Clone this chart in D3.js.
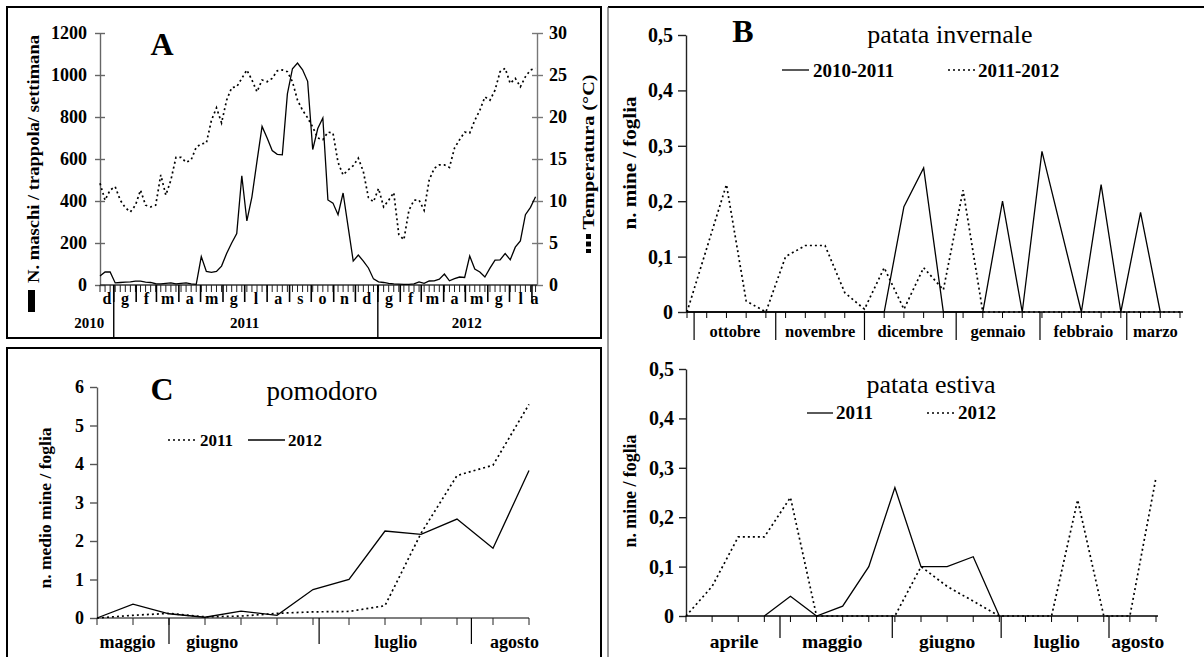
<!DOCTYPE html>
<html>
<head>
<meta charset="utf-8">
<script src="https://d3js.org/d3.v7.min.js"></script>
<style>
    body { margin:0; background:#fff; }
    svg { display:block; font-family:"Liberation Serif", "Times New Roman", serif; }
</style>
</head>
<body>
<svg id="chart" width="1204" height="657"></svg>
<script>
// ---------- data ----------
// A: weekly male catches per trap (solid) and mean temperature (dotted), from mid Dec 2010
const aStart = new Date(2010, 11, 13);
const aEnd = new Date(2012, 7, 8);
const maleCatches = [43, 62, 62, 10, 12, 14, 15, 18, 18, 14, 12, 6, 5, 8, 10, 5, 8, 10, 5, 3,
    135, 65, 60, 65, 90, 150, 200, 245, 520, 305, 420, 590, 755, 700, 640, 622, 620, 910, 1030, 1057,
    1025, 970, 645, 745, 795, 405, 390, 335, 438, 276, 114, 143, 114, 81, 29, 15, 12, 8, 5, 4,
    3, 3, 5, 15, 8, 19, 20, 28, 52, 20, 30, 38, 36, 138, 76, 62, 38, 80, 118, 120,
    150, 120, 180, 210, 335, 370, 420];
const temperature = [12.1, 10.1, 11.3, 11.7, 10.1, 9.2, 8.7, 9.5, 11.3, 9.5, 9.3, 9.5, 13.1, 10.7, 12.5, 15.2, 15.2, 14.6, 14.9, 16.4,
    16.8, 16.9, 19.6, 21.1, 19.3, 22.0, 23.5, 23.6, 24.6, 25.6, 24.4, 23.0, 24.4, 24.2, 24.6, 25.5, 25.6, 25.4, 24.2, 22.0,
    20.8, 19.9, 18.8, 17.5, 17.3, 18.2, 18.1, 14.6, 13.1, 13.7, 14.2, 15.1, 13.5, 10.4, 9.9, 11.5, 9.3, 10.1, 11.0, 6.0,
    5.4, 8.9, 10.1, 10.1, 8.9, 12.5, 13.9, 14.3, 14.3, 14.0, 16.3, 17.3, 18.2, 18.1, 19.6, 20.8, 22.4, 22.0, 23.2, 25.4,
    25.8, 24.0, 24.6, 23.6, 24.8, 25.6, 25.8];
const aCountTicks = [0, 200, 400, 600, 800, 1000, 1200];
const aTempTicks = [0, 5, 10, 15, 20, 25, 30];
const aMonths = ['d', 'g', 'f', 'm', 'a', 'm', 'g', 'l', 'a', 's', 'o', 'n', 'd', 'g', 'f', 'm', 'a', 'm', 'g', 'l', 'a'];
const aYears = ['2010', '2011', '2012'];
const aYearAt = [new Date(2010, 10, 28), new Date(2011, 6, 1), new Date(2012, 4, 3)];
const aYearBreaks = [new Date(2011, 0, 1), new Date(2012, 0, 1)];

// B: patata invernale, weekly samples October - March
const bSeason1 = [0, 0, 0, 0, 0, 0, 0, 0, 0, 0, 0, 0.19, 0.26, 0, 0, 0, 0.2, 0, 0.29, null, 0, 0.23, 0, 0.18, 0, null];
const bSeason2 = [0, 0.115, 0.23, 0.02, 0, 0.1, 0.12, 0.12, 0.035, 0.005, 0.08, 0.005, 0.08, 0.04, 0.22, 0, 0, 0, 0, 0, 0, 0, 0, 0, 0, 0];
const bMonths = ['ottobre', 'novembre', 'dicembre', 'gennaio', 'febbraio', 'marzo'];
const bMonthBreaks = [0.36, 4.5, 9, 13.65, 17.9, 22.3, 25.2];
const mineTicks = [0, 0.1, 0.2, 0.3, 0.4, 0.5];

// C: pomodoro, weekly samples May - August
const c2011 = [0, 0.07, 0.12, 0.03, 0.05, 0.12, 0.16, 0.17, 0.32, 2.2, 3.7, 3.97, 5.55];
const c2012 = [0, 0.36, 0.11, 0.02, 0.18, 0.07, 0.74, 1.0, 2.26, 2.17, 2.57, 1.81, 3.83];
const cMonths = ['maggio', 'giugno', 'luglio', 'agosto'];
const cMonthAt = [0.85, 3.2, 8.3, 11.6];
const cMonthBreaks = [2, 6.17, 10.4];
const cTicks = [0, 1, 2, 3, 4, 5, 6];

// D: patata estiva, weekly samples April - August
const d2011 = [null, null, null, 0, 0.04, 0, 0.02, 0.1, 0.26, 0.1, 0.1, 0.12, 0, null, null, null, null, null, null];
const d2012 = [0, 0.06, 0.16, 0.16, 0.24, 0, 0, 0, 0, 0.1, 0.06, 0.03, 0, 0, 0, 0.235, 0, 0, 0.28];
const dMonths = ['aprile', 'maggio', 'giugno', 'luglio', 'agosto'];
const dMonthAt = [1.84, 5.6, 10.0, 14.2, 17.3];
const dMonthBreaks = [3.6, 7.9, 12.07, 16.2];

// ---------- helpers ----------
const svg = d3.select('#chart');
const FONT = '"Liberation Serif", "Times New Roman", serif';
const DOTS = '2,3';

function label(x, y, s, size, opts = {}) {
    const t = svg.append('text')
        .attr('x', x).attr('y', y)
        .attr('font-family', FONT)
        .attr('font-size', size)
        .attr('font-weight', opts.normal ? 'normal' : 'bold')
        .attr('text-anchor', opts.anchor || 'middle')
        .text(s);
    if (opts.rotate) t.attr('transform', `rotate(-90, ${x}, ${y})`);
    if (opts.len) t.attr('textLength', opts.len).attr('lengthAdjust', 'spacingAndGlyphs');
    return t;
}

function seg(x1, y1, x2, y2, w, col, dash) {
    const l = svg.append('line')
        .attr('x1', x1).attr('y1', y1).attr('x2', x2).attr('y2', y2)
        .attr('stroke', col || '#000').attr('stroke-width', w || 1);
    if (dash) l.attr('stroke-dasharray', dash);
    return l;
}

function series(values, x, y, dotted) {
    const pts = values.map((v, i) => [i, v]).filter(d => d[1] != null);
    svg.append('path')
        .datum(pts)
        .attr('fill', 'none')
        .attr('stroke', '#000')
        .attr('stroke-width', dotted ? 1.7 : 1.3)
        .attr('stroke-dasharray', dotted ? DOTS : null)
        .attr('d', d3.line().x(d => x(d[0])).y(d => y(d[1])));
}

function styleAxis(g, size, col) {
    g.attr('font-family', FONT).attr('font-size', size).attr('font-weight', 'bold').attr('color', '#000');
    g.selectAll('text').attr('font-family', FONT);
    g.selectAll('path, line').attr('stroke', col).attr('stroke-width', 1.4);
}

const intFmt = d3.format('d');
const commaFmt = d => d === 0 ? '0' : d.toFixed(1).replace('.', ',');

// ---------- frames ----------
svg.append('rect').attr('x', 7).attr('y', 7).attr('width', 594).attr('height', 331)
    .attr('fill', 'none').attr('stroke', '#000').attr('stroke-width', 2);
svg.append('rect').attr('x', 7).attr('y', 348).attr('width', 594).attr('height', 320)
    .attr('fill', 'none').attr('stroke', '#000').attr('stroke-width', 2);
seg(608, 7, 1210, 7, 2, '#000');
seg(608, 7, 608, 660, 1.2, '#555');

// ---------- panel A ----------
const xA = d3.scaleTime().domain([aStart, aEnd]).range([100, 537]);
const yCount = d3.scaleLinear().domain([0, 1200]).range([285, 33]);
const yTemp = d3.scaleLinear().domain([0, 30]).range([285, 33]);
const aDates = maleCatches.map((_, i) => d3.timeDay.offset(aStart, 7 * i));

const axL = svg.append('g').attr('transform', 'translate(100,0)')
    .call(d3.axisLeft(yCount).tickValues(aCountTicks).tickFormat(intFmt).tickSize(5).tickSizeOuter(0).tickPadding(8));
axL.selectAll('.tick line').attr('x1', 5);
styleAxis(axL, 18, '#666');

const axR = svg.append('g').attr('transform', 'translate(537,0)')
    .call(d3.axisRight(yTemp).tickValues(aTempTicks).tickFormat(intFmt).tickSize(6).tickSizeOuter(0).tickPadding(6));
axR.selectAll('.tick line').attr('x1', -5);
styleAxis(axR, 18, '#777');

// time axis: weekly ticks, month separators, year separators
seg(100, 285, 537, 285, 1.4, '#333');
aDates.forEach(d => seg(xA(d), 285, xA(d), 292, 1, '#222'));
const monthBreaks = d3.timeMonth.range(new Date(2011, 0, 1), aEnd);
monthBreaks.forEach(d => seg(xA(d), 285, xA(d), 302, 1.6, '#000'));
aYearBreaks.forEach(d => seg(xA(d), 285, xA(d), 338, 1.4, '#000'));
const bounds = [aStart, ...monthBreaks, aEnd];
aMonths.forEach((m, i) => {
    const cx = (xA(bounds[i]) + xA(bounds[i + 1])) / 2;
    label(Math.min(cx, 537), 304, m, 16);
});
aYears.forEach((yr, i) => label(xA(aYearAt[i]), 328, yr, 15));

series(temperature, i => xA(aDates[i]), yTemp, true);
series(maleCatches, i => xA(aDates[i]), yCount, false);

label(162, 55, 'A', 32);
label(39, 159, 'N. maschi / trappola/ settimana', 17, { rotate: true, len: 248 });
svg.append('rect').attr('x', 28).attr('y', 290).attr('width', 7).attr('height', 22).attr('fill', '#000');
label(594, 152, 'Temperatura (°C)', 17, { rotate: true, len: 155 });
seg(588.5, 234, 588.5, 253, 5, '#000', '5,2.5');

// ---------- panel B ----------
const xB = d3.scaleLinear().domain([0, 25]).range([687, 1180]);
const yB = d3.scaleLinear().domain([0, 0.5]).range([312, 35]);
const axB = svg.append('g').attr('transform', 'translate(686,0)')
    .call(d3.axisLeft(yB).tickValues(mineTicks).tickSize(8).tickSizeOuter(0).tickPadding(5).tickFormat(commaFmt));
styleAxis(axB, 20, '#222');
seg(686, 312, 1183, 312, 1.4, '#000');
bSeason2.forEach((_, i) => seg(xB(i), 312, xB(i), 318, 1, '#000'));
bMonthBreaks.slice(0, -1).forEach(k => seg(xB(k), 312, xB(k), 340, 1.2, '#000'));
bMonths.forEach((m, i) => label((xB(bMonthBreaks[i]) + xB(bMonthBreaks[i + 1])) / 2, 337, m, 16.5));

series(bSeason2, xB, yB, true);
series(bSeason1, xB, yB, false);

label(743, 42, 'B', 32);
label(950, 43, 'patata invernale', 26, { normal: true });
seg(782, 70, 809, 70, 1.3);
label(813, 77, '2010-2011', 19, { anchor: 'start' });
seg(948, 70, 975, 70, 1.7, '#000', DOTS);
label(978, 77, '2011-2012', 19, { anchor: 'start' });
label(636, 163, 'n. mine / foglia', 18, { rotate: true, len: 133 });

// ---------- panel C ----------
const xC = d3.scaleLinear().domain([0, 12]).range([97, 529]);
const yC = d3.scaleLinear().domain([0, 6]).range([618, 387]);
const axC = svg.append('g').attr('transform', 'translate(97,0)')
    .call(d3.axisLeft(yC).tickValues(cTicks).tickFormat(intFmt).tickSize(7).tickSizeOuter(0).tickPadding(6));
styleAxis(axC, 18, '#555');
seg(97, 618, 529, 618, 1.4, '#555');
c2011.forEach((_, i) => seg(xC(i), 618, xC(i), 625, 1, '#222'));
cMonthBreaks.forEach(k => seg(xC(k), 618, xC(k), 644, 1.2, '#000'));
cMonths.forEach((m, i) => label(xC(cMonthAt[i]), 648, m, 18));

series(c2011, xC, yC, true);
series(c2012, xC, yC, false);

label(162, 400, 'C', 32);
label(322, 400, 'pomodoro', 27, { normal: true });
seg(168, 440, 197, 440, 1.7, '#000', DOTS);
label(200, 446, '2011', 17, { anchor: 'start' });
seg(248, 440, 285, 440, 1.3);
label(288, 446, '2012', 17, { anchor: 'start' });
label(51, 508, 'n. medio mine / foglia', 16, { rotate: true, len: 161 });

// ---------- panel D ----------
const xD = d3.scaleLinear().domain([0, 18]).range([686, 1156]);
const yD = d3.scaleLinear().domain([0, 0.5]).range([616, 369]);
const axD = svg.append('g').attr('transform', 'translate(686,0)')
    .call(d3.axisLeft(yD).tickValues(mineTicks).tickSize(7).tickSizeOuter(0).tickPadding(5).tickFormat(commaFmt));
styleAxis(axD, 20, '#222');
seg(686, 616, 1158, 616, 1.4, '#000');
d2012.forEach((_, i) => seg(xD(i), 616, xD(i), 622, 1, '#000'));
dMonthBreaks.forEach(k => seg(xD(k), 616, xD(k), 638, 1.2, '#000'));
dMonths.forEach((m, i) => label(xD(dMonthAt[i]), 648, m, 19.5));

series(d2012, xD, yD, true);
series(d2011, xD, yD, false);

label(931, 393, 'patata estiva', 26, { normal: true });
seg(807, 413, 833, 413, 1.3);
label(836, 419, '2011', 19, { anchor: 'start' });
seg(927, 413, 955, 413, 1.7, '#000', DOTS);
label(958, 419, '2012', 19, { anchor: 'start' });
label(636, 491, 'n. mine / foglia', 18, { rotate: true, len: 113 });
</script>
</body>
</html>
